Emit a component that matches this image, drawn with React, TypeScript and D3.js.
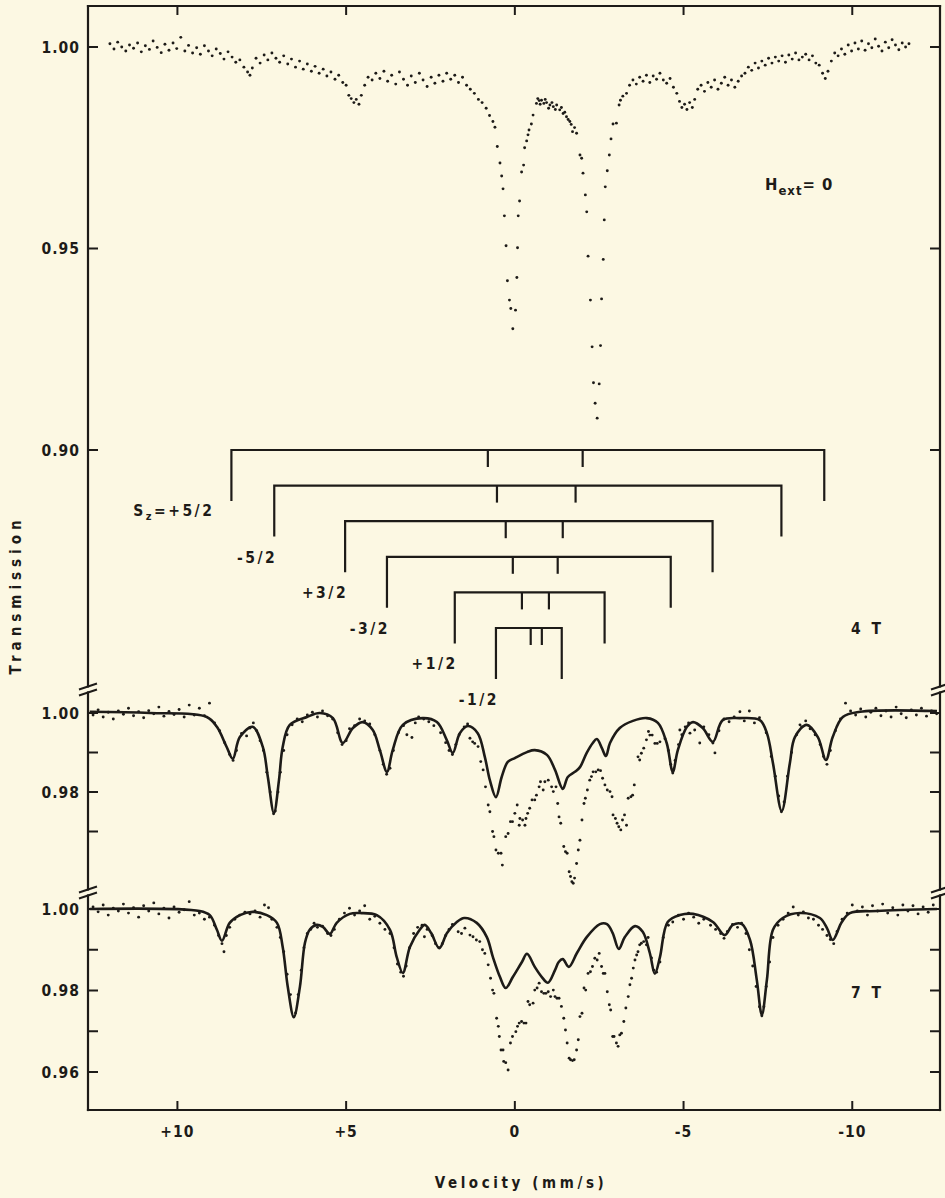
import React from "react";
import * as d3 from "d3";

type Pt = [number, number];

// velocity axis (mm/s), reversed: positive on the left
const velocityTicks = [10, 5, 0, -5, -10];
const velocityLabels = ["+10", "+5", "0", "-5", "-10"];

// transmission ticks per panel
const zeroTicks = [1.0, 0.95, 0.9];
const zeroTickLabels = ["1.00", "0.95", "0.90"];
const field4Ticks = [1.0, 0.99, 0.98, 0.97];
const field4TickLabels = ["1.00", "", "0.98", ""];
const field7Ticks = [1.0, 0.99, 0.98, 0.97, 0.96];
const field7TickLabels = ["1.00", "", "0.98", "", "0.96"];

// stick diagram: line positions (mm/s) for each S_z sub-spectrum
const spinStates = ["+5/2", "-5/2", "+3/2", "-3/2", "+1/2", "-1/2"];
const stickOuterLeft = [8.4, 7.13, 5.03, 3.79, 1.78, 0.56];
const stickInnerLeft = [0.8, 0.53, 0.27, 0.06, -0.21, -0.47];
const stickInnerRight = [-2.01, -1.8, -1.42, -1.27, -1.01, -0.8];
const stickOuterRight = [-9.17, -7.9, -5.86, -4.62, -2.66, -1.39];

// H_ext = 0 spectrum [velocity, transmission]
const zeroField: Pt[] = [
  [12.0, 1.0008], [11.88, 0.9995], [11.77, 1.0012], [11.65, 1.0], [11.53, 0.999], [11.42, 1.0005],
  [11.3, 0.9997], [11.18, 1.001], [11.07, 0.9988], [10.95, 1.0003], [10.83, 0.9994], [10.72, 1.0015],
  [10.6, 0.9999], [10.48, 0.9986], [10.37, 1.0007], [10.25, 0.9992], [10.13, 1.001], [10.02, 0.9996],
  [9.9, 1.0024], [9.78, 0.999], [9.67, 1.0004], [9.55, 0.9985], [9.43, 0.9998], [9.32, 0.9982],
  [9.2, 1.0003], [9.08, 0.999], [8.97, 0.9978], [8.85, 0.9995], [8.73, 0.9984], [8.62, 0.997],
  [8.5, 0.9988], [8.38, 0.9975], [8.27, 0.9962], [8.15, 0.9968], [8.03, 0.995], [7.92, 0.9938],
  [7.85, 0.993], [7.78, 0.9948], [7.67, 0.9972], [7.55, 0.996], [7.43, 0.998], [7.32, 0.9968],
  [7.2, 0.9985], [7.08, 0.9972], [6.97, 0.9962], [6.85, 0.9978], [6.73, 0.9958], [6.62, 0.997],
  [6.5, 0.995], [6.38, 0.9965], [6.27, 0.9945], [6.15, 0.9958], [6.03, 0.994], [5.92, 0.9952],
  [5.8, 0.9935], [5.68, 0.9945], [5.57, 0.9928], [5.45, 0.9938], [5.33, 0.992], [5.22, 0.993],
  [5.1, 0.9912], [5.0, 0.9905], [4.92, 0.988], [4.85, 0.9872], [4.77, 0.9862], [4.7, 0.987],
  [4.62, 0.9858], [4.55, 0.988], [4.45, 0.9905], [4.35, 0.9925], [4.23, 0.9918], [4.12, 0.9935],
  [4.0, 0.9922], [3.88, 0.994], [3.77, 0.9915], [3.65, 0.993], [3.53, 0.9908], [3.42, 0.9938],
  [3.3, 0.992], [3.18, 0.9905], [3.07, 0.9928], [2.95, 0.9912], [2.83, 0.9935], [2.72, 0.9918],
  [2.6, 0.9902], [2.48, 0.9925], [2.37, 0.991], [2.25, 0.993], [2.13, 0.9915], [2.02, 0.9935],
  [1.9, 0.992], [1.78, 0.993], [1.67, 0.9912], [1.55, 0.9925], [1.43, 0.9905], [1.32, 0.9895],
  [1.2, 0.9885], [1.08, 0.987], [0.97, 0.9862], [0.85, 0.9848], [0.75, 0.983], [0.65, 0.9815],
  [0.59, 0.9801], [0.52, 0.9753], [0.44, 0.9712], [0.39, 0.968], [0.35, 0.9648], [0.31, 0.9581],
  [0.26, 0.9507], [0.22, 0.942], [0.16, 0.9372], [0.12, 0.9351], [0.06, 0.9301], [-0.02, 0.9347],
  [-0.06, 0.9428], [-0.08, 0.9502], [-0.1, 0.9581], [-0.14, 0.9618], [-0.2, 0.969], [-0.26, 0.9707],
  [-0.29, 0.975], [-0.35, 0.9767], [-0.39, 0.9782], [-0.42, 0.9794], [-0.49, 0.9809], [-0.54, 0.9831],
  [-0.64, 0.986], [-0.68, 0.9872], [-0.72, 0.9867], [-0.75, 0.9858], [-0.79, 0.9868], [-0.86, 0.986],
  [-0.9, 0.987], [-0.94, 0.9862], [-1.0, 0.9848], [-1.04, 0.9856], [-1.1, 0.9862], [-1.14, 0.9852],
  [-1.2, 0.9845], [-1.24, 0.9856], [-1.33, 0.9844], [-1.38, 0.985], [-1.43, 0.9835], [-1.48, 0.9838],
  [-1.53, 0.9827], [-1.58, 0.982], [-1.63, 0.9815], [-1.67, 0.9808], [-1.71, 0.979], [-1.77, 0.98],
  [-1.83, 0.9786], [-1.93, 0.9732], [-1.98, 0.9724], [-2.02, 0.9687], [-2.09, 0.9633], [-2.13, 0.9591],
  [-2.17, 0.9481], [-2.24, 0.9372], [-2.29, 0.9256], [-2.33, 0.9167], [-2.38, 0.9116], [-2.44, 0.9079],
  [-2.5, 0.9164], [-2.54, 0.9259], [-2.57, 0.9375], [-2.62, 0.9473], [-2.65, 0.9571], [-2.68, 0.9653],
  [-2.74, 0.9693], [-2.8, 0.9732], [-2.85, 0.9772], [-2.91, 0.9809], [-3.01, 0.9811], [-3.09, 0.9856],
  [-3.13, 0.9868], [-3.2, 0.9878], [-3.31, 0.9885], [-3.4, 0.9905], [-3.5, 0.9918], [-3.6, 0.9908],
  [-3.7, 0.9925], [-3.8, 0.9915], [-3.9, 0.993], [-4.0, 0.9912], [-4.1, 0.9928], [-4.2, 0.992],
  [-4.3, 0.9935], [-4.4, 0.9918], [-4.5, 0.991], [-4.6, 0.9922], [-4.7, 0.99], [-4.8, 0.9885],
  [-4.88, 0.9865], [-4.95, 0.985], [-5.03, 0.9858], [-5.1, 0.9845], [-5.18, 0.9862], [-5.26, 0.985],
  [-5.33, 0.987], [-5.42, 0.9895], [-5.52, 0.9905], [-5.62, 0.989], [-5.72, 0.9912], [-5.82, 0.99],
  [-5.92, 0.9918], [-6.02, 0.9895], [-6.12, 0.991], [-6.22, 0.9925], [-6.32, 0.9905], [-6.42, 0.9918],
  [-6.52, 0.99], [-6.62, 0.9915], [-6.72, 0.9928], [-6.82, 0.9935], [-6.92, 0.995], [-7.02, 0.9942],
  [-7.12, 0.996], [-7.22, 0.9948], [-7.32, 0.9965], [-7.42, 0.9955], [-7.52, 0.9972], [-7.62, 0.996],
  [-7.72, 0.9975], [-7.82, 0.9965], [-7.92, 0.9978], [-8.02, 0.9962], [-8.12, 0.998], [-8.22, 0.997],
  [-8.32, 0.9985], [-8.42, 0.9968], [-8.52, 0.9975], [-8.62, 0.9982], [-8.72, 0.9968], [-8.82, 0.9978],
  [-8.92, 0.996], [-9.02, 0.9955], [-9.12, 0.9935], [-9.2, 0.9922], [-9.28, 0.994], [-9.38, 0.9965],
  [-9.48, 0.9985], [-9.58, 0.9978], [-9.68, 0.9995], [-9.78, 0.9982], [-9.88, 1.0005], [-9.98, 0.999],
  [-10.08, 1.001], [-10.18, 0.9995], [-10.28, 1.0015], [-10.38, 0.9992], [-10.48, 1.0008], [-10.58, 0.9998],
  [-10.68, 1.002], [-10.78, 1.0002], [-10.88, 0.999], [-10.98, 1.0012], [-11.08, 0.9998], [-11.18, 1.0018],
  [-11.28, 1.0005], [-11.38, 0.9993], [-11.48, 1.001], [-11.58, 1.0], [-11.68, 1.0008],
];

// 4 T: fitted curve
const field4Fit: Pt[] = [
  [12.6, 1.0003], [10.82, 1.0], [9.13, 0.999], [8.83, 0.9965], [8.54, 0.9914], [8.36, 0.9884],
  [8.15, 0.9939], [7.77, 0.9965], [7.47, 0.9914], [7.32, 0.9838], [7.14, 0.9747], [6.99, 0.983],
  [6.88, 0.9914], [6.67, 0.997], [6.16, 0.999], [5.78, 1.0], [5.39, 0.9987], [5.1, 0.9924],
  [4.8, 0.9962], [4.51, 0.9977], [4.21, 0.9957], [4.0, 0.9906], [3.79, 0.9851], [3.62, 0.9906],
  [3.32, 0.997], [2.73, 0.9987], [2.31, 0.9977], [2.02, 0.9932], [1.84, 0.9899], [1.63, 0.9949],
  [1.39, 0.9967], [1.1, 0.9949], [0.89, 0.9889], [0.74, 0.983], [0.56, 0.9787], [0.39, 0.9838],
  [0.21, 0.9876], [0.0, 0.9886], [-0.36, 0.9901], [-0.59, 0.9906], [-0.95, 0.9894], [-1.19, 0.9856],
  [-1.42, 0.9808], [-1.57, 0.9838], [-1.78, 0.9851], [-1.93, 0.9863], [-2.13, 0.9899], [-2.31, 0.9924],
  [-2.43, 0.9934], [-2.58, 0.9911], [-2.7, 0.9891], [-2.82, 0.9924], [-3.11, 0.9962], [-3.5, 0.998],
  [-3.91, 0.9987], [-4.24, 0.9975], [-4.5, 0.9924], [-4.68, 0.9851], [-4.83, 0.9906], [-5.1, 0.9965],
  [-5.28, 0.9977], [-5.57, 0.9962], [-5.87, 0.9927], [-6.16, 0.9982], [-6.67, 0.9987], [-7.26, 0.9982],
  [-7.47, 0.9949], [-7.65, 0.9873], [-7.91, 0.9752], [-8.15, 0.9873], [-8.3, 0.9939], [-8.65, 0.997],
  [-8.98, 0.9939], [-9.22, 0.9881], [-9.42, 0.9939], [-9.72, 0.999], [-10.23, 1.0003], [-12.51, 1.0005],
];

// 4 T: measured points on the outer lines
const field4Points: Pt[] = [
  [12.5, 0.9995], [12.35, 1.0008], [12.2, 0.999], [12.05, 1.0002], [11.9, 0.9985], [11.75, 1.0005],
  [11.6, 0.9997], [11.45, 1.0012], [11.3, 0.9993], [11.15, 1.0003], [11.0, 0.9988], [10.85, 1.0006],
  [10.7, 0.9998], [10.55, 1.0015], [10.4, 0.9992], [10.25, 1.0004], [10.1, 0.9996], [9.95, 1.0009],
  [9.8, 0.999], [9.65, 1.002], [9.5, 0.9995], [9.35, 1.0012], [9.2, 0.9993], [9.05, 1.0025],
  [8.9, 0.9975], [8.75, 0.9955], [8.6, 0.9925], [8.45, 0.9895], [8.35, 0.988], [8.25, 0.9905],
  [8.1, 0.9948], [7.95, 0.9942], [7.85, 0.9962], [7.75, 0.9975], [7.65, 0.9955], [7.55, 0.993],
  [7.45, 0.9905], [7.35, 0.985], [7.25, 0.98], [7.15, 0.9745], [7.1, 0.9752], [7.02, 0.98],
  [6.95, 0.985], [6.85, 0.9905], [6.75, 0.9945], [6.6, 0.997], [6.45, 0.9985], [6.3, 0.9978],
  [6.15, 0.9995], [6.0, 1.0002], [5.85, 0.999], [5.7, 1.0005], [5.55, 0.9993], [5.4, 0.9985],
  [5.25, 0.995], [5.12, 0.992], [5.0, 0.993], [4.9, 0.996], [4.75, 0.9968], [4.6, 0.9985],
  [4.45, 0.998], [4.3, 0.9972], [4.15, 0.9945], [4.0, 0.9905], [3.9, 0.987], [3.8, 0.9845],
  [3.7, 0.986], [3.6, 0.9905], [3.45, 0.995], [3.3, 0.9968], [3.2, 0.9945], [3.05, 0.9938],
  [2.95, 0.9975], [2.85, 0.999], [2.7, 0.9985], [2.55, 0.9978], [2.4, 0.9968], [2.2, 0.995],
  [2.05, 0.9925], [1.95, 0.9905], [1.85, 0.9895], [1.75, 0.992], [1.65, 0.9945], [1.5, 0.9965],
  [1.4, 0.9972],
  [-4.45, 0.9935], [-4.55, 0.9905], [-4.62, 0.987], [-4.68, 0.9848], [-4.75, 0.988], [-4.85, 0.992],
  [-4.89, 0.9957], [-4.95, 0.9945], [-5.05, 0.9965], [-5.15, 0.9975], [-5.19, 0.9949], [-5.33, 0.9957],
  [-5.48, 0.9924], [-5.6, 0.9965], [-5.75, 0.9945], [-5.87, 0.9924], [-5.93, 0.9899], [-6.05, 0.9955],
  [-6.2, 0.9985], [-6.35, 0.9978], [-6.5, 0.999], [-6.67, 1.0003], [-6.8, 0.998], [-6.95, 1.0005],
  [-7.1, 0.9975], [-7.25, 0.9988], [-7.45, 0.995], [-7.6, 0.989], [-7.72, 0.984], [-7.82, 0.979],
  [-7.9, 0.975], [-7.98, 0.9775], [-8.08, 0.984], [-8.2, 0.99], [-8.35, 0.9945], [-8.45, 0.997],
  [-8.5, 0.9965], [-8.62, 0.998], [-8.75, 0.996], [-8.9, 0.9945], [-9.05, 0.992], [-9.15, 0.989],
  [-9.25, 0.987], [-9.35, 0.9905], [-9.5, 0.9955], [-9.65, 0.9985], [-9.8, 1.0025], [-9.95, 1.0005],
  [-10.1, 0.9995], [-10.25, 1.001], [-10.4, 0.999], [-10.55, 1.0002], [-10.7, 1.0012], [-10.85, 0.9993],
  [-11.0, 1.0005], [-11.15, 0.999], [-11.3, 1.0015], [-11.45, 0.9998], [-11.6, 0.9988], [-11.75, 1.0008],
  [-11.9, 0.9995], [-12.05, 1.0012], [-12.2, 0.9992], [-12.35, 1.0005], [-12.5, 0.9998],
];

// 4 T: measured points in the central part
const field4Centre: Pt[] = [
  [1.33, 0.9936], [1.25, 0.9927], [1.19, 0.9923], [1.09, 0.9915], [1.01, 0.9877], [0.94, 0.9856],
  [0.87, 0.9813], [0.79, 0.9767], [0.74, 0.975], [0.66, 0.97], [0.62, 0.9687], [0.56, 0.9653],
  [0.49, 0.9645], [0.41, 0.9645], [0.37, 0.9615], [0.27, 0.9687], [0.2, 0.9695], [0.13, 0.9725],
  [0.07, 0.9725], [0.0, 0.9746], [-0.07, 0.9767], [-0.13, 0.9716], [-0.15, 0.9733], [-0.23, 0.9729],
  [-0.3, 0.9716], [-0.33, 0.9733], [-0.38, 0.9746], [-0.44, 0.9759], [-0.51, 0.978], [-0.59, 0.978],
  [-0.64, 0.9792], [-0.72, 0.9813], [-0.76, 0.9826], [-0.84, 0.9805], [-0.89, 0.9826], [-0.99, 0.983],
  [-1.09, 0.9813], [-1.14, 0.9801], [-1.22, 0.9813], [-1.27, 0.9771], [-1.31, 0.9737], [-1.36, 0.9721],
  [-1.45, 0.9662], [-1.5, 0.9649], [-1.55, 0.9645], [-1.61, 0.9598], [-1.65, 0.9586], [-1.69, 0.9573],
  [-1.73, 0.9569], [-1.77, 0.9582], [-1.83, 0.9619], [-1.88, 0.9653], [-1.93, 0.9678], [-1.99, 0.9729],
  [-2.05, 0.9771], [-2.09, 0.9784], [-2.15, 0.9805], [-2.22, 0.983], [-2.27, 0.9839], [-2.32, 0.9851],
  [-2.4, 0.9851], [-2.47, 0.9856], [-2.54, 0.9854], [-2.6, 0.9835], [-2.67, 0.9818], [-2.74, 0.9805],
  [-2.82, 0.9801], [-2.88, 0.9788], [-2.91, 0.9742], [-2.98, 0.9733], [-3.03, 0.9721], [-3.08, 0.9712],
  [-3.14, 0.9704], [-3.19, 0.9729], [-3.25, 0.9742], [-3.31, 0.9716], [-3.36, 0.9784], [-3.44, 0.9788],
  [-3.49, 0.9792], [-3.54, 0.9818], [-3.65, 0.9889], [-3.7, 0.9881], [-3.75, 0.9898], [-3.82, 0.9911],
  [-3.9, 0.9932], [-3.96, 0.9953], [-4.0, 0.9944], [-4.07, 0.9944], [-4.15, 0.9923], [-4.22, 0.9923],
  [-4.3, 0.9927],
];

// 7 T: fitted curve
const field7Fit: Pt[] = [
  [12.6, 1.0], [9.34, 0.9995], [9.04, 0.9985], [8.83, 0.9949], [8.68, 0.9922], [8.45, 0.9966],
  [8.15, 0.9985], [7.77, 0.9993], [7.35, 0.9985], [7.05, 0.9966], [6.88, 0.9907], [6.73, 0.9809],
  [6.55, 0.9735], [6.37, 0.9809], [6.22, 0.9917], [6.08, 0.9949], [5.87, 0.9961], [5.69, 0.9956],
  [5.48, 0.9939], [5.28, 0.9966], [4.89, 0.9988], [4.59, 0.999], [4.09, 0.9985], [3.7, 0.9949],
  [3.5, 0.9882], [3.32, 0.9843], [3.11, 0.9907], [2.82, 0.9949], [2.67, 0.9961], [2.48, 0.9941],
  [2.24, 0.9904], [2.01, 0.9941], [1.72, 0.9968], [1.5, 0.9978], [1.13, 0.9966], [0.83, 0.9931],
  [0.65, 0.9882], [0.44, 0.9833], [0.27, 0.9806], [0.06, 0.9833], [-0.21, 0.987], [-0.36, 0.989],
  [-0.59, 0.9858], [-0.8, 0.9833], [-0.98, 0.9819], [-1.19, 0.985], [-1.3, 0.987], [-1.42, 0.9877],
  [-1.6, 0.9858], [-1.84, 0.9892], [-2.13, 0.9931], [-2.52, 0.9963], [-2.73, 0.9963], [-2.9, 0.9941],
  [-3.08, 0.9902], [-3.26, 0.9931], [-3.56, 0.9958], [-3.79, 0.9944], [-4.0, 0.9892], [-4.15, 0.9841],
  [-4.3, 0.9882], [-4.53, 0.9968], [-4.89, 0.9985], [-5.28, 0.9988], [-5.87, 0.9968], [-6.22, 0.9936],
  [-6.46, 0.9961], [-6.73, 0.9963], [-6.97, 0.9924], [-7.17, 0.9826], [-7.32, 0.974], [-7.47, 0.9826],
  [-7.65, 0.9949], [-7.94, 0.9978], [-8.45, 0.999], [-9.04, 0.9978], [-9.25, 0.9953], [-9.42, 0.9924],
  [-9.69, 0.9968], [-9.93, 0.999], [-10.73, 0.9995], [-12.51, 1.0],
];

// 7 T: measured points on the outer lines
const field7Points: Pt[] = [
  [12.5, 1.0005], [12.35, 0.9993], [12.2, 1.001], [12.05, 0.9985], [11.9, 1.0002], [11.75, 0.9995],
  [11.6, 1.0012], [11.45, 0.999], [11.3, 1.0003], [11.15, 0.998], [11.0, 1.0008], [10.85, 0.9995],
  [10.7, 1.0015], [10.55, 0.9988], [10.4, 1.0002], [10.25, 0.9978], [10.1, 1.0005], [9.95, 0.9992],
  [9.8, 0.9998], [9.65, 1.0018], [9.5, 0.9985], [9.35, 0.999], [9.2, 0.9975], [9.05, 0.998],
  [8.9, 0.996], [8.78, 0.9935], [8.68, 0.9915], [8.62, 0.9895], [8.55, 0.9935], [8.45, 0.9955],
  [8.3, 0.9975], [8.15, 0.9985], [8.0, 0.9992], [7.85, 0.9988], [7.7, 0.9995], [7.55, 0.998],
  [7.42, 1.001], [7.3, 1.0003], [7.2, 0.9975], [7.05, 0.9955], [6.95, 0.993], [6.85, 0.9895],
  [6.75, 0.984], [6.65, 0.979], [6.55, 0.9735], [6.5, 0.9745], [6.42, 0.979], [6.33, 0.985],
  [6.25, 0.9905], [6.15, 0.994], [6.05, 0.995], [5.95, 0.9965], [5.85, 0.9955], [5.7, 0.9958],
  [5.55, 0.994], [5.45, 0.9935], [5.35, 0.995], [5.2, 0.9975], [5.05, 0.999], [4.9, 1.0002],
  [4.75, 0.9985], [4.6, 0.9995], [4.45, 1.0008], [4.3, 0.9975], [4.15, 0.9982], [4.0, 0.9965],
  [3.85, 0.995], [3.7, 0.994], [3.58, 0.9905], [3.48, 0.9865], [3.38, 0.9845], [3.3, 0.9835],
  [3.22, 0.986], [3.12, 0.9905], [3.0, 0.994], [2.88, 0.9955], [2.75, 0.996], [2.68, 0.9932],
  [2.6, 0.995], [2.45, 0.9935], [2.35, 0.9915], [2.25, 0.9905], [2.15, 0.9915], [2.05, 0.9935],
  [1.95, 0.995], [1.85, 0.9962],
  [-3.95, 0.993], [-4.05, 0.988], [-4.12, 0.985], [-4.2, 0.9845], [-4.3, 0.987], [-4.4, 0.993],
  [-4.55, 0.996], [-4.68, 0.9968], [-4.85, 0.9985], [-5.0, 0.9975], [-5.15, 0.999], [-5.3, 0.998],
  [-5.45, 0.9965], [-5.6, 0.9975], [-5.8, 0.996], [-5.95, 0.995], [-6.1, 0.994], [-6.2, 0.9928],
  [-6.3, 0.9945], [-6.45, 0.9962], [-6.6, 0.9955], [-6.72, 0.9965], [-6.85, 0.994], [-6.95, 0.99],
  [-7.05, 0.986], [-7.15, 0.981], [-7.25, 0.976], [-7.32, 0.9738], [-7.38, 0.976], [-7.45, 0.981],
  [-7.55, 0.987], [-7.65, 0.993], [-7.8, 0.996], [-7.95, 0.9975], [-8.1, 0.999], [-8.25, 1.0005],
  [-8.4, 0.9985], [-8.55, 0.9993], [-8.7, 0.9978], [-8.85, 0.9975], [-9.0, 0.996], [-9.12, 0.995],
  [-9.25, 0.9935], [-9.35, 0.9925], [-9.45, 0.9915], [-9.55, 0.9945], [-9.7, 0.9975], [-9.85, 0.999],
  [-10.0, 1.001], [-10.15, 0.9995], [-10.3, 1.0005], [-10.45, 0.9985], [-10.6, 1.0008], [-10.75, 0.9995],
  [-10.9, 1.0012], [-11.05, 0.999], [-11.2, 1.0003], [-11.35, 0.9985], [-11.5, 1.001], [-11.65, 0.9995],
  [-11.8, 1.0008], [-11.95, 0.9988], [-12.1, 1.0005], [-12.25, 0.9992], [-12.4, 1.001],
];

// 7 T: measured points in the central part
const field7Centre: Pt[] = [
  [1.68, 0.9944], [1.58, 0.994], [1.48, 0.9953], [1.33, 0.9936], [1.24, 0.9932], [1.14, 0.9924],
  [1.04, 0.992], [0.96, 0.99], [0.89, 0.9891], [0.79, 0.9863], [0.72, 0.983], [0.66, 0.9801],
  [0.62, 0.9793], [0.54, 0.9732], [0.49, 0.9712], [0.46, 0.9687], [0.41, 0.9654], [0.35, 0.9654],
  [0.33, 0.9626], [0.27, 0.9623], [0.2, 0.9605], [0.13, 0.9671], [0.07, 0.9687], [-0.03, 0.9699],
  [-0.08, 0.9712], [-0.13, 0.972], [-0.2, 0.9724], [-0.27, 0.972], [-0.33, 0.972], [-0.39, 0.9773],
  [-0.44, 0.9765], [-0.54, 0.9769], [-0.59, 0.9801], [-0.66, 0.9806], [-0.72, 0.9818], [-0.79, 0.9797],
  [-0.86, 0.9793], [-0.92, 0.9793], [-0.99, 0.9797], [-1.06, 0.9785], [-1.14, 0.9801], [-1.19, 0.9785],
  [-1.25, 0.9781], [-1.31, 0.9781], [-1.38, 0.9761], [-1.45, 0.9732], [-1.5, 0.9703], [-1.55, 0.9671],
  [-1.61, 0.9634], [-1.65, 0.963], [-1.71, 0.9628], [-1.76, 0.963], [-1.83, 0.9654], [-1.88, 0.9679],
  [-1.93, 0.9736], [-1.99, 0.9744], [-2.05, 0.9806], [-2.1, 0.9801], [-2.17, 0.9842], [-2.24, 0.9846],
  [-2.3, 0.9859], [-2.37, 0.9879], [-2.44, 0.9875], [-2.5, 0.9891], [-2.57, 0.9859], [-2.62, 0.9842],
  [-2.67, 0.9842], [-2.74, 0.9797], [-2.8, 0.9765], [-2.84, 0.9752], [-2.9, 0.9687], [-2.94, 0.9687],
  [-3.01, 0.9671], [-3.06, 0.9663], [-3.11, 0.9691], [-3.16, 0.9695], [-3.23, 0.9724], [-3.29, 0.9757],
  [-3.36, 0.9785], [-3.41, 0.9814], [-3.46, 0.983], [-3.51, 0.9855], [-3.56, 0.9875], [-3.61, 0.9887],
  [-3.65, 0.9895], [-3.7, 0.9912], [-3.75, 0.9916], [-3.82, 0.992], [-3.9, 0.9912],
];

const INK = "#1d1b18";
const PAPER = "#fcf8e3";
const FONT = "'DejaVu Sans Condensed', 'DejaVu Sans', sans-serif";

const W = 945;
const H = 1198;
const LEFT = 88;
const RIGHT = 940;
const TOP = 6;
const BOTTOM = 1110;
const BREAKS = [690, 893];

const x = d3.scaleLinear().domain([12.65, -12.6]).range([LEFT, RIGHT]);
const yZero = d3.scaleLinear().domain([0.9, 1.0]).range([450, 47]);
const y4 = d3.scaleLinear().domain([0.98, 1.0]).range([792, 713]);
const y7 = d3.scaleLinear().domain([0.96, 1.0]).range([1072, 909]);

const panels = [
  { y: yZero, ticks: zeroTicks, labels: zeroTickLabels },
  { y: y4, ticks: field4Ticks, labels: field4TickLabels },
  { y: y7, ticks: field7Ticks, labels: field7TickLabels },
];

const Dots = ({ data, y }: { data: Pt[]; y: d3.ScaleLinear<number, number> }) => (
  <g fill={INK}>
    {data.map((d, i) => (
      <circle key={i} cx={x(d[0])} cy={y(d[1])} r={1.45} />
    ))}
  </g>
);

const fitPath = (data: Pt[], y: d3.ScaleLinear<number, number>) =>
  d3
    .line<Pt>()
    .x((d) => x(d[0]))
    .y((d) => y(d[1]))
    .curve(d3.curveCatmullRom.alpha(0.5))(data) || "";

// two slanted strokes marking an axis break
const BreakMark = ({ cx, cy }: { cx: number; cy: number }) => (
  <g stroke={INK} strokeWidth={2}>
    <line x1={cx - 9} y1={cy - 0.5} x2={cx + 9} y2={cy - 6.5} />
    <line x1={cx - 9} y1={cy + 5.5} x2={cx + 9} y2={cy - 0.5} />
  </g>
);

const axisSegments = (ax: number) => {
  const stops = [TOP, ...BREAKS.flatMap((b) => [b - 3.5, b + 2.5]), BOTTOM];
  const segs = [];
  for (let i = 0; i < stops.length; i += 2) {
    segs.push(<line key={`${ax}-${i}`} x1={ax} x2={ax} y1={stops[i]} y2={stops[i + 1]} />);
  }
  return segs;
};

const App = () => {
  const bracketTop = yZero(0.9);
  const bracketStep = 35.6;
  const legLen = 51;
  const innerLen = 17;

  return (
    <svg
      width={W}
      height={H}
      style={{ position: "absolute", left: 0, top: 0 }}
      fontFamily={FONT}
      fontWeight="bold"
    >
      <rect width={W} height={H} fill={PAPER} />

      {/* frame */}
      <g stroke={INK} strokeWidth={2.2} strokeLinecap="square">
        <line x1={LEFT} x2={RIGHT} y1={TOP} y2={TOP} />
        <line x1={LEFT} x2={RIGHT} y1={BOTTOM} y2={BOTTOM} />
        {axisSegments(LEFT)}
        {axisSegments(RIGHT)}
      </g>
      {BREAKS.map((b) => (
        <g key={b}>
          <BreakMark cx={LEFT} cy={b} />
          <BreakMark cx={RIGHT} cy={b} />
        </g>
      ))}

      {/* velocity ticks */}
      <g stroke={INK} strokeWidth={2}>
        {velocityTicks.map((v) => (
          <g key={v}>
            <line x1={x(v)} x2={x(v)} y1={TOP} y2={TOP + 9} />
            <line x1={x(v)} x2={x(v)} y1={BOTTOM} y2={BOTTOM - 9} />
          </g>
        ))}
      </g>
      <g fill={INK} fontSize={15.5} textAnchor="middle" letterSpacing={1}>
        {velocityTicks.map((v, i) => (
          <text key={v} x={x(v)} y={BOTTOM + 27}>
            {velocityLabels[i]}
          </text>
        ))}
      </g>

      {/* transmission ticks */}
      {panels.map((p, pi) => (
        <g key={pi}>
          <g stroke={INK} strokeWidth={2}>
            {p.ticks.map((t) => (
              <g key={t}>
                <line x1={LEFT} x2={LEFT + 10} y1={p.y(t)} y2={p.y(t)} />
                <line x1={RIGHT - 10} x2={RIGHT} y1={p.y(t)} y2={p.y(t)} />
              </g>
            ))}
          </g>
          <g fill={INK} fontSize={15.5} textAnchor="end" letterSpacing={1}>
            {p.ticks.map((t, i) =>
              p.labels[i] ? (
                <text key={t} x={LEFT - 8} y={p.y(t)} dy="0.36em">
                  {p.labels[i]}
                </text>
              ) : null
            )}
          </g>
        </g>
      ))}

      {/* axis titles */}
      <text
        transform="translate(21,595) rotate(-90)"
        textAnchor="middle"
        fontSize={15}
        letterSpacing={5}
        fill={INK}
      >
        Transmission
      </text>
      <text x={521} y={1188} textAnchor="middle" fontSize={15} letterSpacing={3.6} fill={INK}>
        Velocity (mm/s)
      </text>

      {/* spectra */}
      <Dots data={zeroField} y={yZero} />
      <Dots data={field4Points} y={y4} />
      <Dots data={field4Centre} y={y4} />
      <path d={fitPath(field4Fit, y4)} fill="none" stroke={INK} strokeWidth={2.6} strokeLinejoin="round" />
      <Dots data={field7Points} y={y7} />
      <Dots data={field7Centre} y={y7} />
      <path d={fitPath(field7Fit, y7)} fill="none" stroke={INK} strokeWidth={2.6} strokeLinejoin="round" />

      {/* stick diagram */}
      <g stroke={INK} strokeWidth={2.2} fill="none">
        {spinStates.map((s, i) => {
          const yy = bracketTop + i * bracketStep;
          const xl = x(stickOuterLeft[i]);
          const xr = x(stickOuterRight[i]);
          return (
            <g key={s}>
              <path d={`M${xl},${yy + legLen}V${yy}H${xr}V${yy + legLen}`} />
              <line x1={x(stickInnerLeft[i])} x2={x(stickInnerLeft[i])} y1={yy} y2={yy + innerLen} />
              <line x1={x(stickInnerRight[i])} x2={x(stickInnerRight[i])} y1={yy} y2={yy + innerLen} />
            </g>
          );
        })}
      </g>
      <g fill={INK} fontSize={15.5} letterSpacing={2.5} textAnchor="end">
        {spinStates.map((s, i) => {
          const yy = bracketTop + i * bracketStep;
          const xl = x(stickOuterLeft[i]);
          if (i === 0) {
            return (
              <text key={s} x={xl - 17} y={yy + legLen + 15}>
                S<tspan fontSize={11} dy={4}>z</tspan>
                <tspan dy={-4}>{`=+${s.slice(1)}`}</tspan>
              </text>
            );
          }
          return (
            <text key={s} x={xl + 3} y={yy + legLen + 26}>
              {s}
            </text>
          );
        })}
      </g>

      {/* annotations */}
      <text x={765} y={190} fontSize={16.5} fill={INK} letterSpacing={1}>
        H<tspan fontSize={13} dy={5}>ext</tspan>
        <tspan dy={-5}>= 0</tspan>
      </text>
      <text x={851} y={634} fontSize={15.5} fill={INK} letterSpacing={3}>
        4 T
      </text>
      <text x={851} y={998} fontSize={15.5} fill={INK} letterSpacing={3}>
        7 T
      </text>
    </svg>
  );
};

export default App;
